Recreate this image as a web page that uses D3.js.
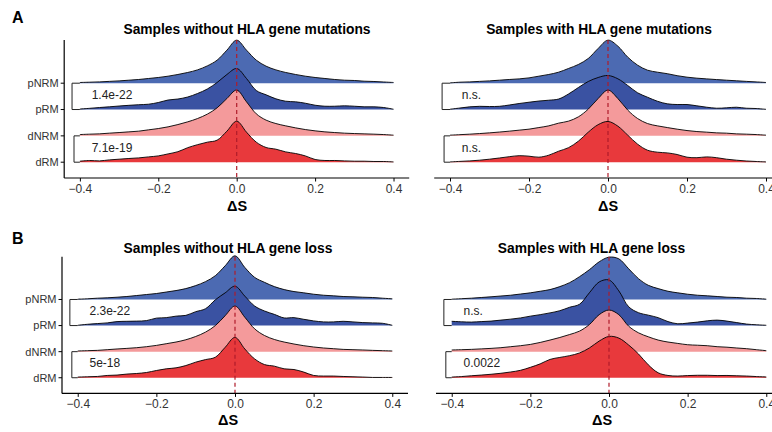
<!DOCTYPE html>
<html><head><meta charset="utf-8">
<script src="https://cdn.jsdelivr.net/npm/d3@7"></script>
<style>
body{margin:0;background:#fff}
svg{display:block}
text{font-family:"Liberation Sans",Arial,Helvetica,sans-serif}
</style>
</head><body>
<svg id="chart" width="772" height="432"></svg>
<script>
// ---------------- data ----------------
const deltaS = [-0.4,-0.375,-0.35,-0.325,-0.3,-0.275,-0.25,-0.225,-0.2,-0.175,-0.15,-0.125,-0.1,-0.075,-0.05,-0.025,0,
  0.025,0.05,0.075,0.1,0.125,0.15,0.175,0.2,0.225,0.25,0.275,0.3,0.325,0.35,0.375,0.4];
const groups = ["pNRM","pRM","dNRM","dRM"];
const groupColors = ["#4c6ab2","#3a52a2","#f49a9b","#e8393c"];
const xTicks = [-0.4,-0.2,0,0.2,0.4];
const panelTags = ["A","B"];
const panelTitles = ["Samples without HLA gene mutations","Samples with HLA gene mutations",
                     "Samples without HLA gene loss","Samples with HLA gene loss"];
const xAxisTitle = "\u0394S";

// densities of ΔS per group (panel A left: without HLA mutations)
const mutWithout_pNRM = [0.07,0.10,0.13,0.18,0.23,0.30,0.37,0.47,0.57,0.70,0.87,1.07,1.33,1.73,2.30,3.30,4.30,3.30,2.30,1.70,1.33,1.07,0.87,0.70,0.57,0.47,0.37,0.30,0.27,0.20,0.17,0.12,0.07];
const mutWithout_pRM  = [0.05,0.12,0.20,0.27,0.35,0.42,0.48,0.53,0.70,0.95,1.05,1.25,1.60,2.05,2.70,3.50,4.10,3.10,1.90,1.47,1.07,0.83,0.77,0.63,0.43,0.33,0.33,0.37,0.33,0.27,0.27,0.20,0.03];
const mutWithout_dNRM = [0.13,0.17,0.20,0.27,0.33,0.40,0.47,0.60,0.73,0.90,1.13,1.40,1.73,2.17,2.80,3.73,4.57,3.40,2.20,1.57,1.23,1.00,0.80,0.63,0.50,0.40,0.33,0.27,0.23,0.20,0.17,0.13,0.07];
const mutWithout_dRM  = [0.10,0.17,0.13,0.23,0.30,0.37,0.43,0.53,0.63,0.83,1.05,1.45,1.75,2.00,2.20,3.10,4.10,3.00,2.00,1.47,1.30,1.03,0.87,0.63,0.27,0.17,0.17,0.13,0.10,0.10,0.07,0.07,0.03];
// panel A right: with HLA mutations
const mutWith_pNRM = [0.03,0.10,0.13,0.18,0.23,0.30,0.37,0.43,0.53,0.70,0.87,1.10,1.47,1.87,2.47,3.47,4.30,3.70,2.60,1.80,1.30,1.10,0.95,0.75,0.60,0.50,0.43,0.36,0.30,0.24,0.18,0.13,0.07];
const mutWith_pRM  = [0.03,0.15,0.27,0.32,0.30,0.32,0.45,0.60,0.73,0.85,0.93,1.05,1.55,2.20,2.80,3.20,3.40,3.07,2.40,1.67,1.23,0.83,0.57,0.50,0.50,0.37,0.23,0.13,0.17,0.23,0.13,0.10,0.02];
const mutWith_dNRM = [0.07,0.12,0.17,0.23,0.30,0.38,0.47,0.57,0.67,0.83,1.00,1.27,1.47,1.90,2.67,3.73,4.57,3.73,2.57,1.73,1.23,1.00,0.83,0.67,0.53,0.43,0.37,0.30,0.27,0.20,0.17,0.13,0.07];
const mutWith_dRM  = [0.03,0.08,0.13,0.20,0.30,0.42,0.55,0.65,0.60,0.50,0.70,1.10,1.45,2.10,3.00,3.75,4.07,3.60,2.70,1.80,1.20,1.00,0.93,0.77,0.50,0.45,0.53,0.45,0.30,0.20,0.12,0.07,0.03];
// panel B left: without HLA loss
const lossWithout_pNRM = [0.03,0.07,0.13,0.17,0.23,0.30,0.40,0.50,0.60,0.75,0.90,1.10,1.40,1.80,2.40,3.40,4.40,3.23,2.23,1.73,1.30,1.00,0.80,0.67,0.53,0.43,0.37,0.30,0.27,0.23,0.20,0.13,0.07];
const lossWithout_pRM  = [0.03,0.13,0.20,0.27,0.40,0.43,0.45,0.50,0.75,0.80,0.95,1.03,1.40,1.70,2.60,3.30,3.97,2.97,1.97,1.47,1.13,0.77,0.80,0.63,0.47,0.37,0.37,0.43,0.37,0.30,0.27,0.23,0.03];
const lossWithout_dNRM = [0.07,0.10,0.13,0.20,0.27,0.33,0.40,0.50,0.63,0.80,0.97,1.20,1.53,1.97,2.63,3.63,4.60,3.47,2.30,1.63,1.23,0.97,0.77,0.60,0.47,0.37,0.30,0.23,0.20,0.17,0.13,0.10,0.07];
const lossWithout_dRM  = [0.07,0.10,0.13,0.23,0.27,0.37,0.43,0.53,0.73,0.90,1.00,1.23,1.57,1.83,2.07,3.07,4.07,2.90,1.90,1.33,1.17,0.90,0.83,0.57,0.23,0.17,0.17,0.13,0.10,0.07,0.03,0.03,0.03];
// panel B right: with HLA loss
const lossWith_pNRM = [0.03,0.08,0.13,0.20,0.27,0.35,0.43,0.55,0.67,0.83,1.00,1.30,1.70,2.30,3.00,3.80,4.27,4.10,3.10,2.10,1.43,1.10,0.83,0.67,0.53,0.43,0.37,0.30,0.23,0.20,0.13,0.10,0.03];
const lossWith_pRM  = [0.43,0.38,0.35,0.40,0.45,0.55,0.65,0.77,0.95,1.10,1.28,1.50,1.85,2.15,3.30,4.40,4.60,3.50,1.90,1.30,1.05,0.80,0.40,0.18,0.25,0.35,0.48,0.55,0.45,0.30,0.15,0.08,0.03];
const lossWith_dNRM = [0.17,0.20,0.23,0.28,0.33,0.40,0.50,0.60,0.73,0.93,1.17,1.43,1.73,2.07,2.73,3.73,4.20,3.73,2.57,1.90,1.50,1.17,0.97,0.83,0.70,0.65,0.60,0.50,0.45,0.37,0.30,0.20,0.10];
const lossWith_dRM  = [0.07,0.12,0.20,0.27,0.35,0.45,0.58,0.75,1.05,1.40,1.85,2.05,2.23,2.50,3.00,3.70,4.17,4.00,3.30,2.40,1.30,0.50,0.23,0.17,0.22,0.25,0.25,0.22,0.23,0.20,0.17,0.12,0.08];

// p-values of comparisons (pNRM vs pRM, dNRM vs dRM)
const pMutWithout  = ["1.4e-22","7.1e-19"];
const pMutWith     = ["n.s.","n.s."];
const pLossWithout = ["2.3e-22","5e-18"];
const pLossWith    = ["n.s.","0.0022"];

// ---------------- layout ----------------
const panels = [
  {title:panelTitles[0], series:[mutWithout_pNRM,mutWithout_pRM,mutWithout_dNRM,mutWithout_dRM], p:pMutWithout,
   x:[64.2,409.2], y:[178,40], yAxis:true, titleX:247, titleY:34, labX:237, labY:210.5},
  {title:panelTitles[1], series:[mutWith_pNRM,mutWith_pRM,mutWith_dNRM,mutWith_dRM], p:pMutWith,
   x:[434.2,781.8], y:[178,40], yAxis:false, titleX:599, titleY:34, labX:608, labY:210.5},
  {title:panelTitles[2], series:[lossWithout_pNRM,lossWithout_pRM,lossWithout_dNRM,lossWithout_dRM], p:pLossWithout,
   x:[62,408], y:[393.4,256.7], yAxis:true, titleX:228, titleY:252.5, labX:228, labY:425},
  {title:panelTitles[3], series:[lossWith_pNRM,lossWith_pRM,lossWith_dNRM,lossWith_dRM], p:pLossWith,
   x:[436,782], y:[393.4,256.7], yAxis:false, titleX:591.5, titleY:252.5, labX:602, labY:425}
];
const ridgeScale = 0.38;   // height of 1 density unit, in category spacings

const svg = d3.select("#chart");
svg.append("rect").attr("width",772).attr("height",432).attr("fill","#fff");

// tags
svg.append("text").attr("x",12).attr("y",23).text(panelTags[0])
  .attr("font-size",16).attr("font-weight","bold").attr("fill","#000");
svg.append("text").attr("x",12).attr("y",243.5).text(panelTags[1])
  .attr("font-size",16).attr("font-weight","bold").attr("fill","#000");

panels.forEach(P => {
  const g = svg.append("g");
  const x = d3.scaleLinear().domain([-0.44,0.44]).range(P.x);
  const y = d3.scaleLinear().domain([0.4,5.64]).range(P.y);
  const idx = d => groups.length - groups.indexOf(d); // pNRM=4 ... dRM=1
  const curve = d3.curveCatmullRom.alpha(0.5);

  // ridges, top group first so lower ones overlay
  groups.forEach((gr,i) => {
    const base = idx(gr);
    const pts = deltaS.map((v,j) => ({v, d:P.series[i][j]}));
    const area = d3.area().curve(curve)
      .x(p => x(p.v)).y0(y(base)).y1(p => y(base + p.d*ridgeScale));
    const line = d3.line().curve(curve)
      .x(p => x(p.v)).y(p => y(base + p.d*ridgeScale));
    g.append("path").attr("d",area(pts)).attr("fill",groupColors[i]);
    g.append("path").attr("d",line(pts)).attr("fill","none")
      .attr("stroke","#000").attr("stroke-width",0.9);
  });

  // reference line at ΔS = 0
  g.append("line").attr("x1",x(0)).attr("x2",x(0))
    .attr("y1",P.y[1]).attr("y2",P.y[0])
    .attr("stroke","#b01c2a").attr("stroke-width",1.2).attr("stroke-dasharray","4,3");

  // comparison brackets
  [[0,1,-0.42],[2,3,-0.415]].forEach(([a,b,bx],k) => {
    const ya = y(idx(groups[a])), yb = y(idx(groups[b]));
    const path = d3.path();
    path.moveTo(x(-0.4), ya); path.lineTo(x(bx), ya); path.lineTo(x(bx), yb); path.lineTo(x(-0.4), yb);
    g.append("path").attr("d",path.toString()).attr("fill","none")
      .attr("stroke","#222").attr("stroke-width",1);
    g.append("text").attr("x",x(-0.37)).attr("y",(ya+yb)/2 + 2.5)
      .attr("font-size",12).attr("fill","#222").text(P.p[k]);
  });

  // x axis
  g.append("line").attr("x1",P.x[0]).attr("x2",P.x[1]).attr("y1",P.y[0]).attr("y2",P.y[0])
    .attr("stroke","#000").attr("stroke-width",1.2);
  const ax = g.append("g").attr("transform",`translate(0,${P.y[0]})`)
    .call(d3.axisBottom(x).tickValues(xTicks).tickFormat(d3.format(".1f")).tickSize(3.5).tickPadding(3));
  ax.select(".domain").remove();
  ax.selectAll(".tick line").attr("stroke","#000").attr("stroke-width",1);
  ax.selectAll(".tick text").attr("font-size",12).attr("fill","#333")
    .attr("font-family","Liberation Sans, Arial, sans-serif");

  // y axis
  if (P.yAxis) {
    g.append("line").attr("x1",P.x[0]).attr("x2",P.x[0]).attr("y1",P.y[0]).attr("y2",P.y[1])
      .attr("stroke","#000").attr("stroke-width",1.2);
    groups.forEach(gr => {
      const yy = y(idx(gr));
      g.append("line").attr("x1",P.x[0]-3.5).attr("x2",P.x[0]).attr("y1",yy).attr("y2",yy)
        .attr("stroke","#000").attr("stroke-width",1);
      g.append("text").attr("x",P.x[0]-5.5).attr("y",yy).attr("dy","0.35em")
        .attr("text-anchor","end").attr("font-size",11).attr("fill","#333").text(gr);
    });
  }

  // titles
  g.append("text").attr("x",P.titleX).attr("y",P.titleY).attr("text-anchor","middle")
    .attr("font-size",13.8).attr("font-weight","bold").attr("fill","#000").text(P.title);
  g.append("text").attr("x",P.labX).attr("y",P.labY).attr("text-anchor","middle")
    .attr("font-size",14.5).attr("font-weight","bold").attr("fill","#000").text(xAxisTitle);
});
</script>
</body></html>
